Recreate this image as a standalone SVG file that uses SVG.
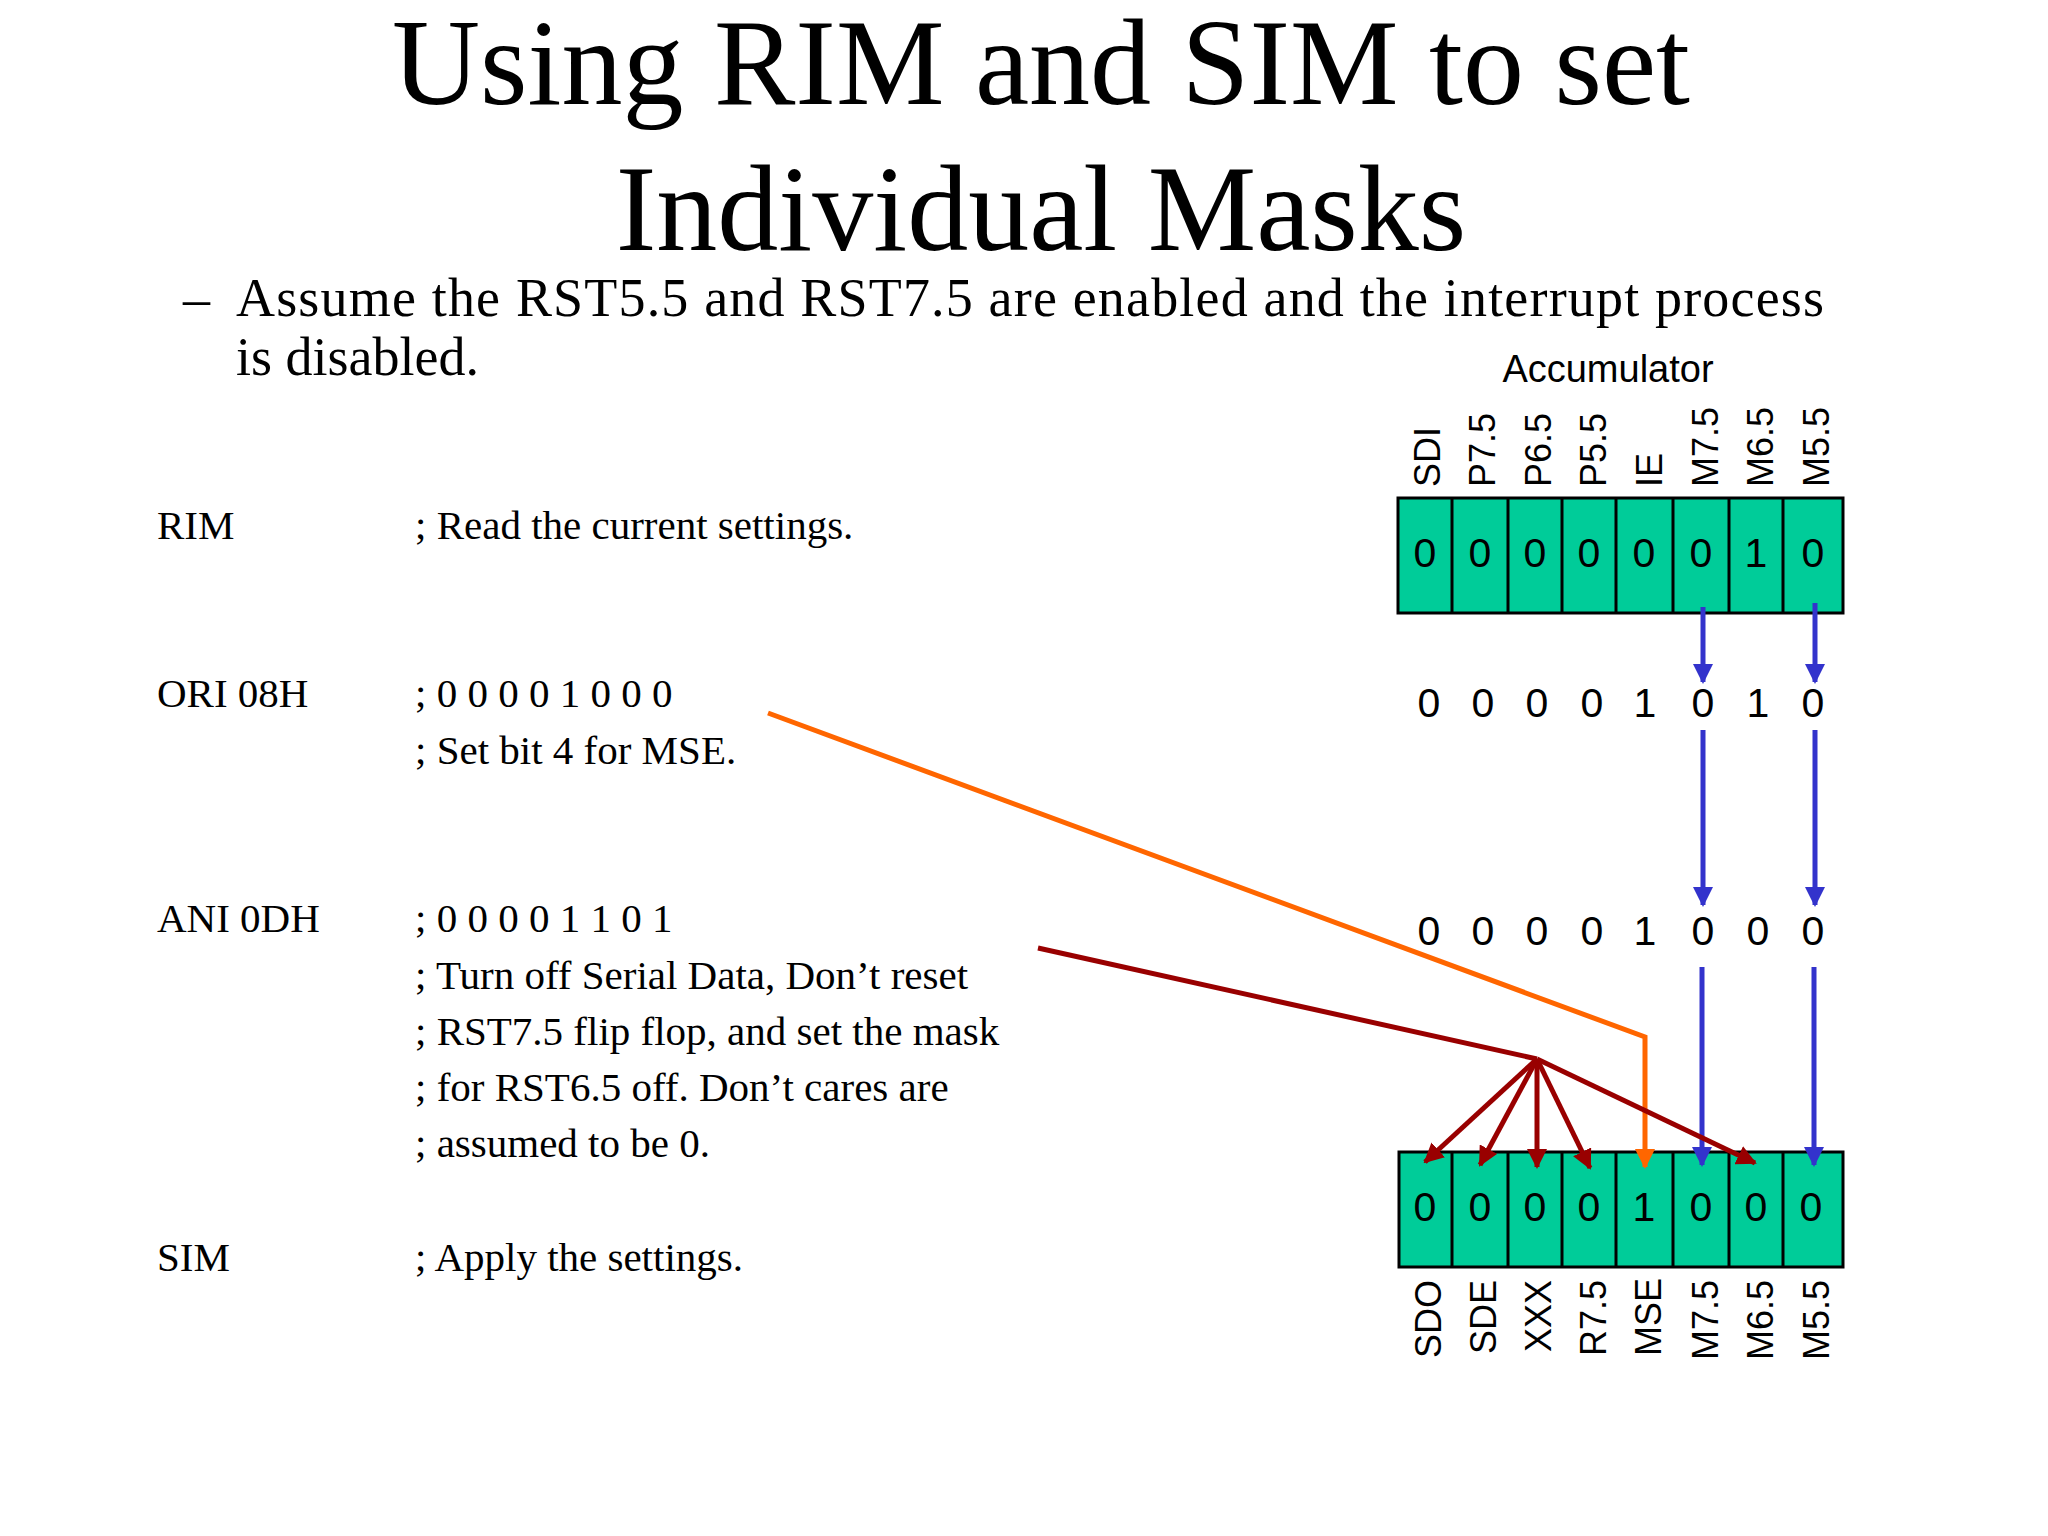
<svg xmlns="http://www.w3.org/2000/svg" width="2048" height="1536" viewBox="0 0 2048 1536">
<style>
.t{font-family:"Liberation Serif",serif;fill:#000}
.s{font-family:"Liberation Sans",Arial,sans-serif;fill:#000}
.cell{fill:#00cc99;stroke:#000;stroke-width:3}
.d{font-size:41px;text-anchor:middle}
.l{font-size:36px}
.code{font-size:41px}
</style>
<defs>
<marker id="ab" viewBox="0 0 10 10" refX="9" refY="5" markerWidth="4" markerHeight="4" orient="auto" markerUnits="strokeWidth"><path d="M0,0L10,5L0,10z" fill="#3333cc"/></marker>
<marker id="ar" viewBox="0 0 10 10" refX="9" refY="5" markerWidth="4" markerHeight="4" orient="auto" markerUnits="strokeWidth"><path d="M0,0L10,5L0,10z" fill="#990000"/></marker>
<marker id="ao" viewBox="0 0 10 10" refX="9" refY="5" markerWidth="4" markerHeight="4" orient="auto" markerUnits="strokeWidth"><path d="M0,0L10,5L0,10z" fill="#ff6600"/></marker>
</defs>
<rect width="2048" height="1536" fill="#fff"/>
<g id="title">
<text class="t" x="1041" y="104" font-size="122" text-anchor="middle">Using RIM and SIM to set</text>
<text class="t" x="1041" y="250" font-size="122" text-anchor="middle">Individual Masks</text>
</g>
<g id="bullet" class="t" font-size="54">
<text x="183" y="316">–</text>
<text x="236" y="316" textLength="1588" lengthAdjust="spacing">Assume the RST5.5 and RST7.5 are enabled and the interrupt process</text>
<text x="236" y="375">is disabled.</text>
</g>
<g id="code" class="t code">
<text x="157" y="539">RIM</text><text x="415" y="539">; Read the current settings.</text>
<text x="157" y="707">ORI 08H</text><text x="415" y="707">; 0 0 0 0 1 0 0 0</text>
<text x="415" y="764">; Set bit 4 for MSE.</text>
<text x="157" y="932">ANI 0DH</text><text x="415" y="932">; 0 0 0 0 1 1 0 1</text>
<text x="415" y="989">; Turn off Serial Data, Don’t reset</text>
<text x="415" y="1045">; RST7.5 flip flop, and set the mask</text>
<text x="415" y="1101">; for RST6.5 off. Don’t cares are</text>
<text x="415" y="1157">; assumed to be 0.</text>
<text x="157" y="1271">SIM</text><text x="415" y="1271">; Apply the settings.</text>
</g>
<g id="accumulator">
<text class="s" x="1608" y="382" font-size="38" text-anchor="middle">Accumulator</text>
<g class="s l">
<text transform="translate(1440,487) rotate(-90)">SDI</text>
<text transform="translate(1495,487) rotate(-90)">P7.5</text>
<text transform="translate(1551,487) rotate(-90)">P6.5</text>
<text transform="translate(1606,487) rotate(-90)">P5.5</text>
<text transform="translate(1662,487) rotate(-90)">IE</text>
<text transform="translate(1718,487) rotate(-90)">M7.5</text>
<text transform="translate(1773,487) rotate(-90)">M6.5</text>
<text transform="translate(1829,487) rotate(-90)">M5.5</text>
</g>
<rect class="cell" x="1398" y="498" width="445" height="115"/>
<path d="M1452,498V613M1508,498V613M1562,498V613M1616,498V613M1673,498V613M1729,498V613M1783,498V613" stroke="#000" stroke-width="3"/>
<g class="s d">
<text x="1425" y="567">0</text><text x="1480" y="567">0</text><text x="1535" y="567">0</text><text x="1589" y="567">0</text><text x="1644" y="567">0</text><text x="1701" y="567">0</text><text x="1756" y="567">1</text><text x="1813" y="567">0</text>
</g>
</g>
<g id="row1" class="s d">
<text x="1429" y="717">0</text><text x="1483" y="717">0</text><text x="1537" y="717">0</text><text x="1592" y="717">0</text><text x="1645" y="717">1</text><text x="1703" y="717">0</text><text x="1758" y="717">1</text><text x="1813" y="717">0</text>
</g>
<g id="row2" class="s d">
<text x="1429" y="945">0</text><text x="1483" y="945">0</text><text x="1537" y="945">0</text><text x="1592" y="945">0</text><text x="1645" y="945">1</text><text x="1703" y="945">0</text><text x="1758" y="945">0</text><text x="1813" y="945">0</text>
</g>
<g id="sim-register">
<rect class="cell" x="1399" y="1152" width="444" height="115"/>
<path d="M1452,1152V1267M1508,1152V1267M1562,1152V1267M1616,1152V1267M1673,1152V1267M1729,1152V1267M1783,1152V1267" stroke="#000" stroke-width="3"/>
<g class="s d">
<text x="1425" y="1221">0</text><text x="1480" y="1221">0</text><text x="1535" y="1221">0</text><text x="1589" y="1221">0</text><text x="1644" y="1221">1</text><text x="1701" y="1221">0</text><text x="1756" y="1221">0</text><text x="1811" y="1221">0</text>
</g>
<g class="s l" text-anchor="end">
<text transform="translate(1441,1280) rotate(-90)">SDO</text>
<text transform="translate(1496,1280) rotate(-90)">SDE</text>
<text transform="translate(1551,1280) rotate(-90)">XXX</text>
<text transform="translate(1606,1280) rotate(-90)">R7.5</text>
<text transform="translate(1661,1278) rotate(-90)">MSE</text>
<text transform="translate(1718,1280) rotate(-90)">M7.5</text>
<text transform="translate(1773,1280) rotate(-90)">M6.5</text>
<text transform="translate(1829,1280) rotate(-90)">M5.5</text>
</g>
</g>
<g id="connectors" fill="none" stroke-width="5">
<g stroke="#3333cc" marker-end="url(#ab)">
<path d="M1703,607V682"/><path d="M1815,603V682"/>
<path d="M1703,730V905"/><path d="M1815,730V905"/>
<path d="M1702,967V1165"/><path d="M1814,967V1165"/>
</g>
<path d="M768,713L1645,1037V1167" stroke="#ff6600" marker-end="url(#ao)"/>
<path d="M1038,948L1537,1059" stroke="#990000"/>
<g stroke="#990000" marker-end="url(#ar)">
<path d="M1537,1059L1425,1162"/><path d="M1537,1059L1480,1165"/><path d="M1537,1059V1167"/><path d="M1537,1059L1590,1168"/><path d="M1537,1059L1755,1163"/>
</g>
</g>
</svg>
